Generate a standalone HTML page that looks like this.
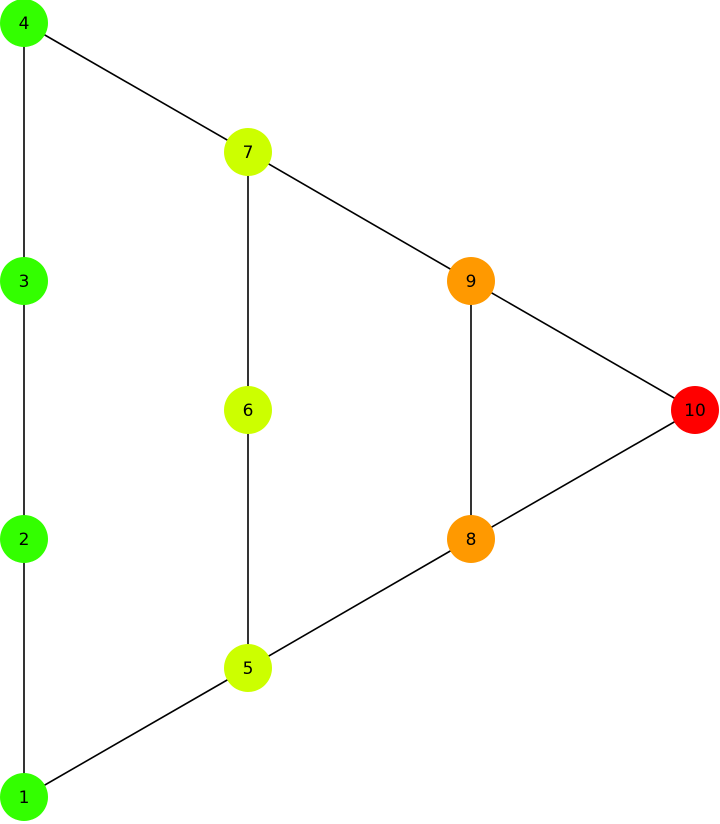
<!DOCTYPE html>
<html><head><meta charset="utf-8"><style>
html,body{margin:0;padding:0;background:#fff;}
svg{display:block;}
text{font-family:"DejaVu Sans","Liberation Sans",sans-serif;font-size:17px;fill:#000;}
</style></head><body>
<svg width="720" height="824" viewBox="0 0 720 824" xmlns="http://www.w3.org/2000/svg">
<g stroke="#000" stroke-width="1.6">
<line x1="24" y1="23" x2="248" y2="152"/>
<line x1="24" y1="23" x2="24" y2="281"/>
<line x1="24" y1="281" x2="24" y2="539"/>
<line x1="24" y1="539" x2="24" y2="797"/>
<line x1="24" y1="797" x2="248" y2="668"/>
<line x1="248" y1="668" x2="248" y2="410"/>
<line x1="248" y1="410" x2="248" y2="152"/>
<line x1="248" y1="152" x2="471" y2="281"/>
<line x1="471" y1="281" x2="695" y2="410"/>
<line x1="471" y1="281" x2="471" y2="539"/>
<line x1="471" y1="539" x2="695" y2="410"/>
<line x1="248" y1="668" x2="471" y2="539"/>
</g>
<g>
<circle cx="24" cy="23" r="24" fill="#33ff00"/>
<circle cx="24" cy="281" r="24" fill="#33ff00"/>
<circle cx="24" cy="539" r="24" fill="#33ff00"/>
<circle cx="24" cy="797" r="24" fill="#33ff00"/>
<circle cx="248" cy="152" r="24" fill="#ccff00"/>
<circle cx="248" cy="410" r="24" fill="#ccff00"/>
<circle cx="248" cy="668" r="24" fill="#ccff00"/>
<circle cx="471" cy="281" r="24" fill="#ff9900"/>
<circle cx="471" cy="539" r="24" fill="#ff9900"/>
<circle cx="695" cy="410" r="24" fill="#ff0000"/>
</g>
<g text-anchor="middle">
<text x="24" y="29">4</text>
<text x="24" y="287">3</text>
<text x="24" y="545">2</text>
<text x="24" y="803">1</text>
<text x="248" y="158">7</text>
<text x="248" y="416">6</text>
<text x="248" y="674">5</text>
<text x="471" y="287">9</text>
<text x="471" y="545">8</text>
<text x="695" y="416">10</text>
</g>
</svg>
</body></html>
